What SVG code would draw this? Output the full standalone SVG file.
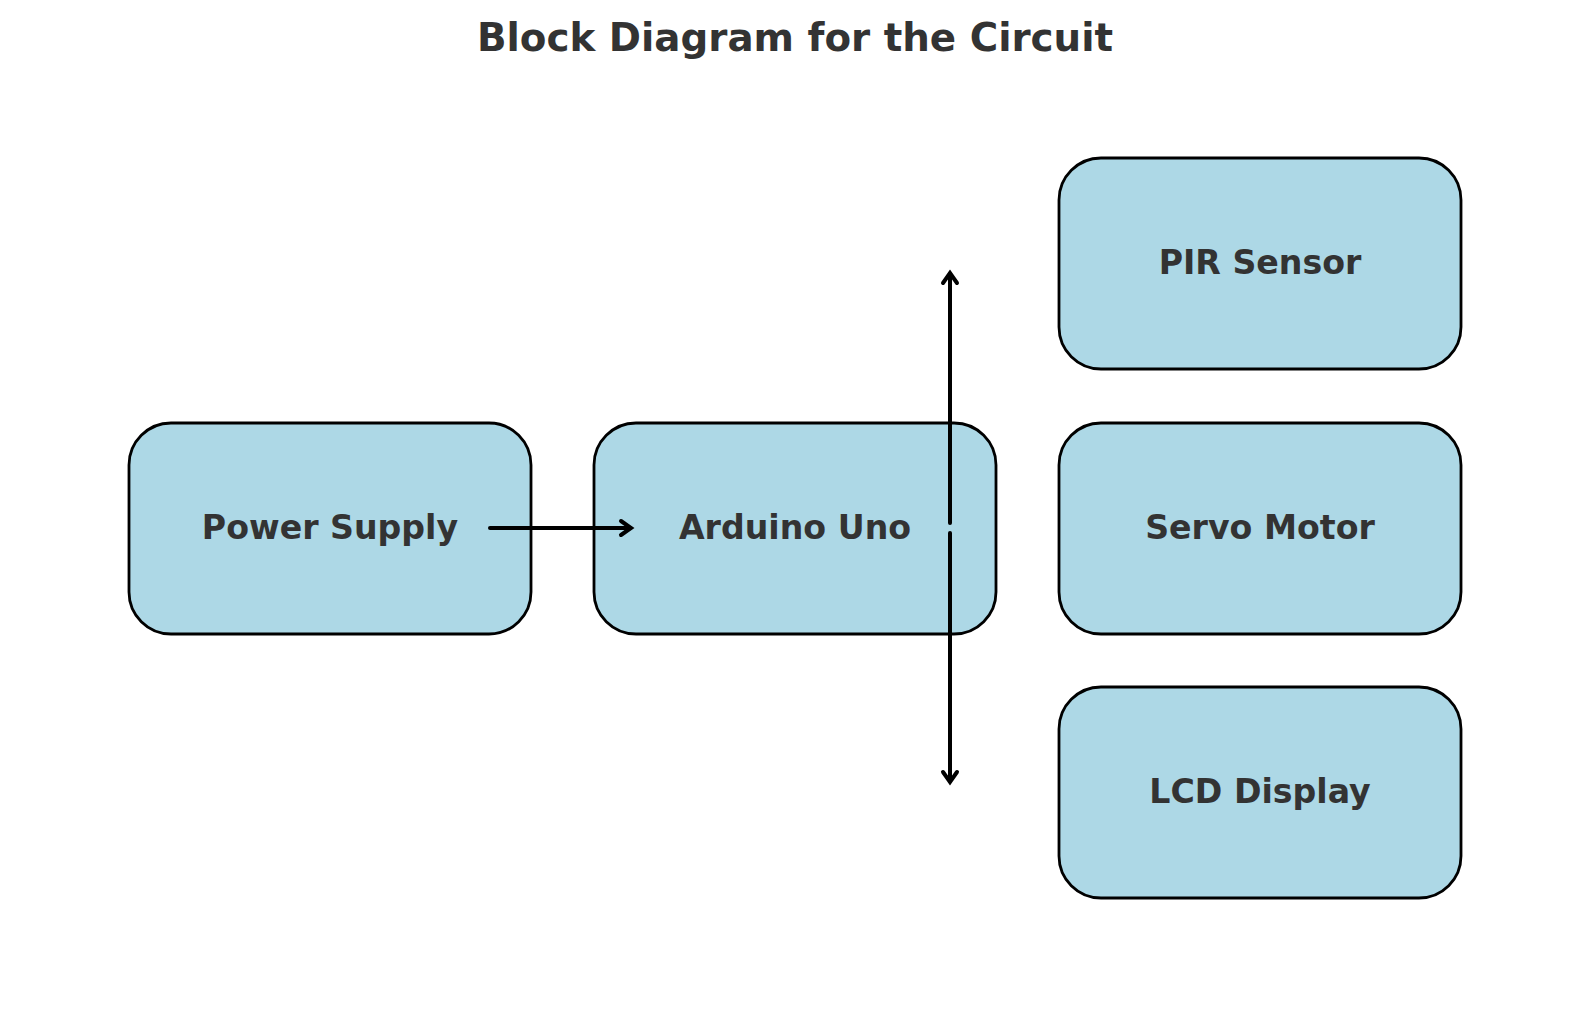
<svg xmlns="http://www.w3.org/2000/svg" width="1589" height="1010" viewBox="0 0 1589 1010">
<defs>
<style>
.box{fill:#ADD8E6;stroke:#000;stroke-width:2.8}
.lbl{font-family:"DejaVu Sans",sans-serif;font-weight:bold;font-size:33.2px;fill:#333333;text-anchor:middle}
.title{font-family:"DejaVu Sans",sans-serif;font-weight:bold;font-size:38.8px;fill:#333333;text-anchor:middle}
.conn{stroke:#000;stroke-width:4;fill:none;stroke-linecap:round}
.head{stroke:#000;stroke-width:4;fill:none;stroke-linecap:round;stroke-linejoin:miter}
</style>
</defs>
<rect width="1589" height="1010" fill="#fff"/>
<text class="title" x="795" y="51">Block Diagram for the Circuit</text>
<g id="power-supply">
<rect class="box" x="129" y="423" width="402" height="211" rx="42" ry="42"/>
<text class="lbl" x="330" y="539">Power Supply</text>
</g>
<g id="arduino-uno">
<rect class="box" x="594" y="423" width="402" height="211" rx="42" ry="42"/>
<text class="lbl" x="795" y="539">Arduino Uno</text>
</g>
<g id="pir-sensor">
<rect class="box" x="1059" y="158" width="402" height="211" rx="42" ry="42"/>
<text class="lbl" x="1260" y="274">PIR Sensor</text>
</g>
<g id="servo-motor">
<rect class="box" x="1059" y="423" width="402" height="211" rx="42" ry="42"/>
<text class="lbl" x="1260" y="539">Servo Motor</text>
</g>
<g id="lcd-display">
<rect class="box" x="1059" y="687" width="402" height="211" rx="42" ry="42"/>
<text class="lbl" x="1260" y="803">LCD Display</text>
</g>
<g id="connectors">
<line class="conn" x1="490" y1="528" x2="630" y2="528"/>
<path class="head" d="M621,521 L631,528 L621,535"/>
<line class="conn" x1="950" y1="523" x2="950" y2="274"/>
<path class="head" d="M943,283 L950,273 L957,283"/>
<line class="conn" x1="950" y1="533" x2="950" y2="781"/>
<path class="head" d="M943,772 L950,782 L957,772"/>
</g>
</svg>
